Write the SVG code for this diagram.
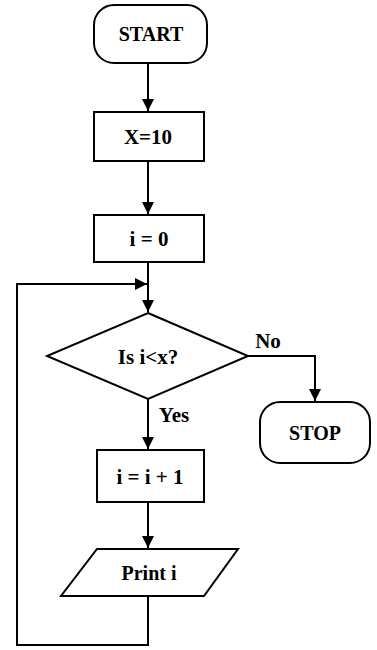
<svg xmlns="http://www.w3.org/2000/svg" width="377" height="650" viewBox="0 0 377 650">
<style>
.s{fill:#fff;stroke:#000;stroke-width:2}
.c{fill:none;stroke:#000;stroke-width:2}
.t{font-family:"Liberation Serif",serif;font-weight:bold;fill:#000;text-anchor:middle}
</style>
<defs>
<marker id="a" viewBox="0 0 10 10" refX="10" refY="5" markerWidth="6" markerHeight="6" orient="auto" markerUnits="strokeWidth">
<path d="M0,0L10,5L0,10z" fill="#000"/>
</marker>
</defs>
<rect width="377" height="650" fill="#fff"/>
<g id="connectors">
<path class="c" d="M148,64V111" marker-end="url(#a)"/>
<path class="c" d="M148,161V214" marker-end="url(#a)"/>
<path class="c" d="M148,262V312" marker-end="url(#a)"/>
<path class="c" d="M248,356H315V401" marker-end="url(#a)"/>
<path class="c" d="M148,399V449" marker-end="url(#a)"/>
<path class="c" d="M148,502V548" marker-end="url(#a)"/>
<path class="c" d="M148,596V645H17V284H147" marker-end="url(#a)"/>
<text class="t" x="268" y="348" font-size="21">No</text>
<text class="t" x="174" y="422" font-size="21">Yes</text>
</g>
<g id="start">
<rect class="s" x="94" y="5" width="113" height="58" rx="20"/>
<text class="t" x="151" y="41" font-size="20">START</text>
</g>
<g id="setx">
<rect class="s" x="94" y="112" width="110" height="49"/>
<text class="t" x="148" y="144" font-size="21">X=10</text>
</g>
<g id="seti">
<rect class="s" x="94" y="215" width="110" height="47"/>
<text class="t" x="149" y="246" font-size="21">i = 0</text>
</g>
<g id="decision">
<polygon class="s" points="148,313 248,356 148,399 47,356"/>
<text class="t" x="148" y="364" font-size="21">Is i&lt;x?</text>
</g>
<g id="stop">
<rect class="s" x="260" y="402" width="110" height="61" rx="20"/>
<text class="t" x="315" y="440" font-size="20">STOP</text>
</g>
<g id="incr">
<rect class="s" x="97" y="450" width="107" height="52"/>
<text class="t" x="150" y="484" font-size="21">i = i + 1</text>
</g>
<g id="print">
<polygon class="s" points="97,549 238,549 204,596 61,596"/>
<text class="t" x="149" y="580" font-size="20">Print i</text>
</g>
</svg>
